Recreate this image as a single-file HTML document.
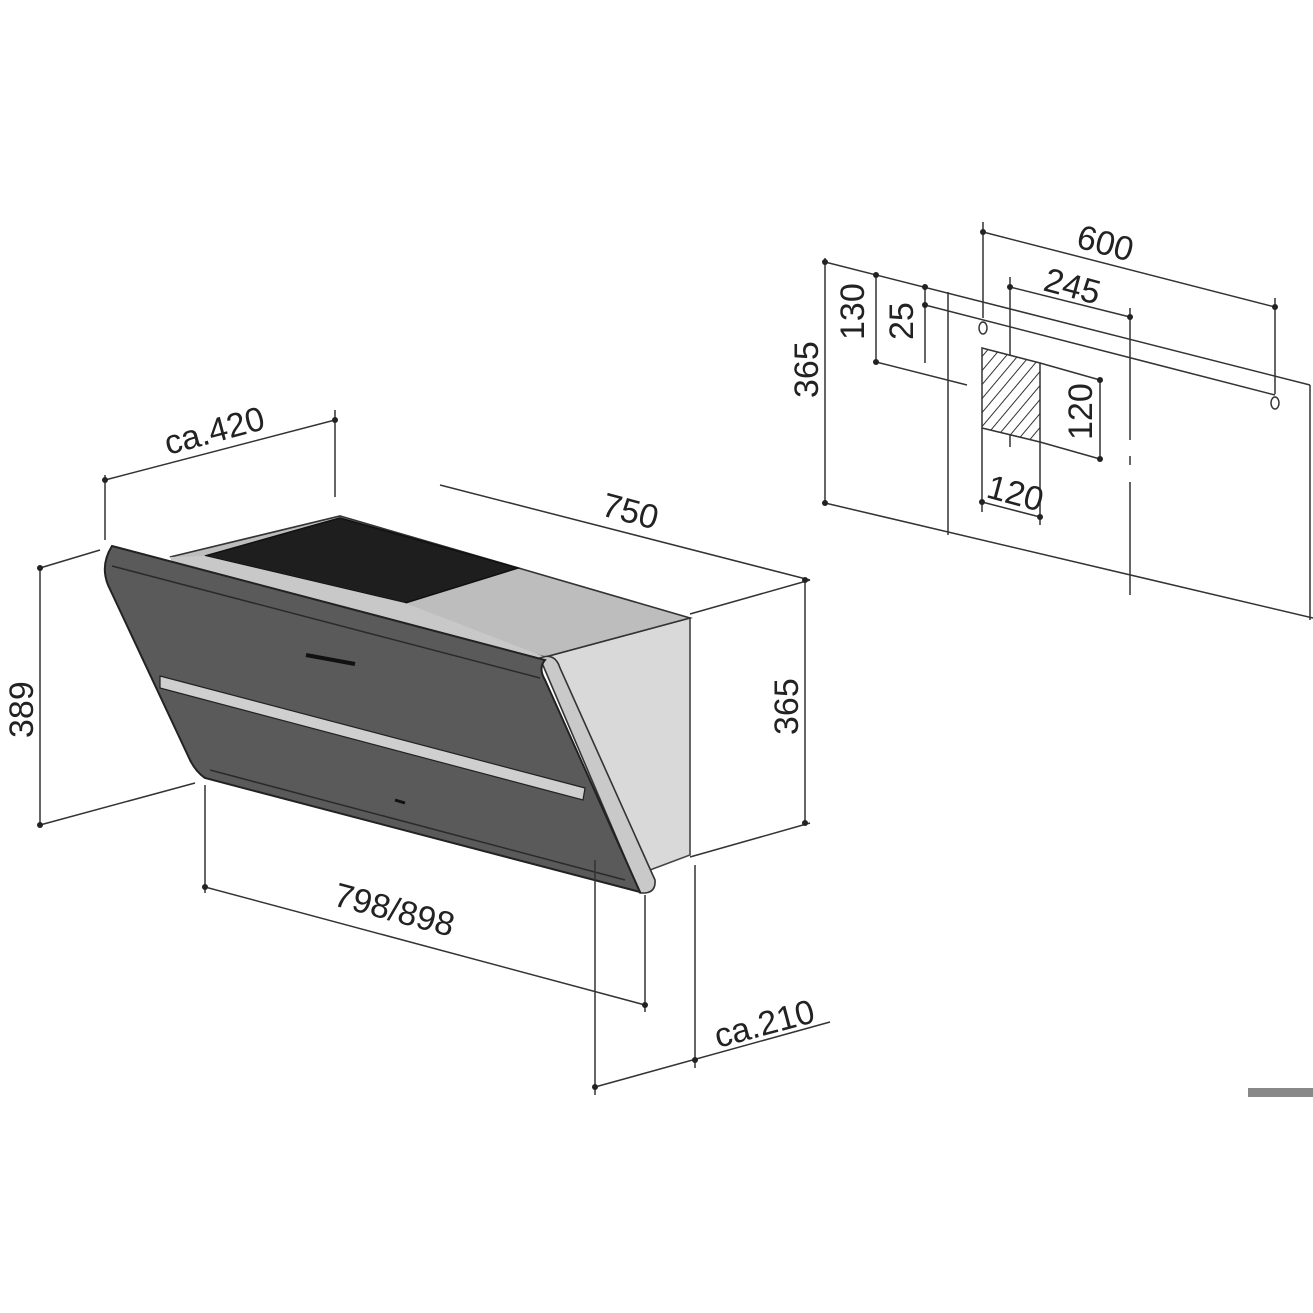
<!DOCTYPE html>
<html><head><style>
html,body{margin:0;padding:0;background:#fff;}
svg{display:block}
text{font-family:"Liberation Sans",sans-serif;fill:#222;}
</style></head><body>
<svg width="1313" height="1313" viewBox="0 0 1313 1313" xmlns="http://www.w3.org/2000/svg">
<defs>
<pattern id="h" width="9" height="9" patternUnits="userSpaceOnUse" patternTransform="rotate(40)">
<rect width="9" height="9" fill="#fff"/><line x1="0" y1="0" x2="0" y2="9" stroke="#333" stroke-width="2"/>
</pattern>
</defs>
<g stroke="#333" stroke-width="1.6" fill="none">
<!-- hood: right box -->
<polygon points="545,657 690,618 690,855 650,870" fill="#d9d9d9" stroke="#444"/>
<!-- top face -->
<polygon points="170,557 340,516 690,618 545,657" fill="#bdbdbd" stroke="#333"/>
<polygon points="205,556 340,518 518,568 405,603" fill="#1e1e1e" stroke="#111"/>
<polygon points="170,557 205,556 405,603 545,657 520,662 175,570" fill="#c8c8c8" stroke="none"/>
<!-- side strip -->
<path d="M540,658 Q555,652 560,668 L655,880 Q656,892 645,893 L640,893 L545,670 Z" fill="#c9c9c9" stroke="#333"/>
<!-- front panel -->
<path d="M112,546 L545,660 Q538,668 545,680 L640,892 L205,778 Q196,772 190,760 L108,585 Q100,565 112,546 Z" fill="#5a5a5a" stroke="#222" stroke-width="2"/>
<path d="M112,566 L540,678" stroke="#2a2a2a" stroke-width="1.5"/>
<path d="M160,676 L585,788 L583,800 L160,688 Z" fill="#cfcfcf" stroke="#222" stroke-width="1.2"/>
<path d="M210,770 L625,880" stroke="#2a2a2a" stroke-width="1.5"/>
<path d="M306,655 L355,664" stroke="#111" stroke-width="4"/>
<path d="M395,800 L405,803" stroke="#111" stroke-width="3"/>
</g>
<g stroke="#333" stroke-width="1.5" fill="none">
<!-- ca.420 -->
<line x1="105" y1="475" x2="105" y2="540"/>
<line x1="335" y1="410" x2="335" y2="497"/>
<line x1="105" y1="480" x2="335" y2="420"/>
<!-- 750 -->
<line x1="440" y1="485" x2="810" y2="580"/>
<line x1="690" y1="614" x2="810" y2="580"/>
<line x1="690" y1="857" x2="810" y2="823"/>
<line x1="805" y1="578" x2="805" y2="824"/>
<!-- 389 -->
<line x1="40" y1="568" x2="100" y2="550"/>
<line x1="40" y1="568" x2="40" y2="825"/>
<line x1="40" y1="825" x2="195" y2="783"/>
<!-- 798/898 -->
<line x1="205" y1="785" x2="205" y2="893"/>
<line x1="645" y1="895" x2="645" y2="1012"/>
<line x1="205" y1="887" x2="645" y2="1005"/>
<!-- ca.210 -->
<line x1="595" y1="860" x2="595" y2="1095"/>
<line x1="695" y1="865" x2="695" y2="1068"/>
<line x1="595" y1="1087" x2="830" y2="1022"/>
<!-- wall plate -->
<line x1="825" y1="262" x2="1310" y2="385"/>
<line x1="1310" y1="385" x2="1310" y2="620"/>
<line x1="825" y1="503" x2="1313" y2="618"/>
<line x1="825" y1="258" x2="825" y2="505"/>
<line x1="948" y1="292" x2="948" y2="535"/>
<line x1="925" y1="305" x2="1275" y2="395"/>
<line x1="1130" y1="308" x2="1130" y2="440"/>
<line x1="1130" y1="456" x2="1130" y2="465"/>
<line x1="1130" y1="482" x2="1130" y2="595"/>
<line x1="983" y1="222" x2="983" y2="318"/>
<line x1="1275" y1="298" x2="1275" y2="394"/>
<line x1="983" y1="232" x2="1275" y2="307"/>
<line x1="1010" y1="287" x2="1130" y2="317"/>
<line x1="1010" y1="277" x2="1010" y2="447"/>
<polygon points="982,348 1040,363 1040,442 982,428" fill="url(#h)"/>
<line x1="982" y1="428" x2="982" y2="512"/>
<line x1="1040" y1="442" x2="1040" y2="525"/>
<line x1="982" y1="502" x2="1040" y2="517"/>
<line x1="1040" y1="363" x2="1100" y2="380"/>
<line x1="1040" y1="442" x2="1100" y2="459"/>
<line x1="1100" y1="380" x2="1100" y2="459"/>
<line x1="876" y1="275" x2="876" y2="362"/>
<line x1="876" y1="362" x2="967" y2="385"/>
<line x1="925" y1="287" x2="925" y2="363"/>
<ellipse cx="983" cy="328" rx="4" ry="6"/>
<ellipse cx="1275" cy="403" rx="4" ry="6"/>
</g>
<g fill="#222">
<circle cx="105" cy="480" r="3"/><circle cx="335" cy="420" r="3"/>
<circle cx="40" cy="568" r="3"/><circle cx="40" cy="825" r="3"/>
<circle cx="205" cy="887" r="3"/><circle cx="645" cy="1005" r="3"/>
<circle cx="805" cy="580" r="3"/><circle cx="805" cy="823" r="3"/>
<circle cx="595" cy="1087" r="3"/><circle cx="695" cy="1060" r="3"/>
<circle cx="825" cy="262" r="3"/><circle cx="825" cy="503" r="3"/>
<circle cx="876" cy="275" r="3"/><circle cx="876" cy="362" r="3"/>
<circle cx="925" cy="287" r="3"/><circle cx="925" cy="305" r="3"/>
<circle cx="983" cy="232" r="3"/><circle cx="1275" cy="307" r="3"/>
<circle cx="1010" cy="287" r="3"/><circle cx="1130" cy="317" r="3"/>
<circle cx="1100" cy="380" r="3"/><circle cx="1100" cy="459" r="3"/>
<circle cx="982" cy="502" r="3"/><circle cx="1040" cy="517" r="3"/>
</g>
<rect x="1248" y="1088" width="65" height="9" fill="#888"/>
<g font-size="34">
<text transform="translate(168,455) rotate(-15)">ca.420</text>
<text transform="translate(600,515) rotate(15)">750</text>
<text transform="translate(798,735) rotate(-90)">365</text>
<text transform="translate(33,738) rotate(-90)">389</text>
<text transform="translate(332,905) rotate(15)">798/898</text>
<text transform="translate(718,1048) rotate(-15)">ca.210</text>
<text transform="translate(1075,247) rotate(15)">600</text>
<text transform="translate(1042,290) rotate(15)">245</text>
<text transform="translate(818,398) rotate(-90)">365</text>
<text transform="translate(864,340) rotate(-90)">130</text>
<text transform="translate(913,340) rotate(-90)">25</text>
<text transform="translate(1092,440) rotate(-90)">120</text>
<text transform="translate(985,497) rotate(15)">120</text>
</g>
</svg>
</body></html>
